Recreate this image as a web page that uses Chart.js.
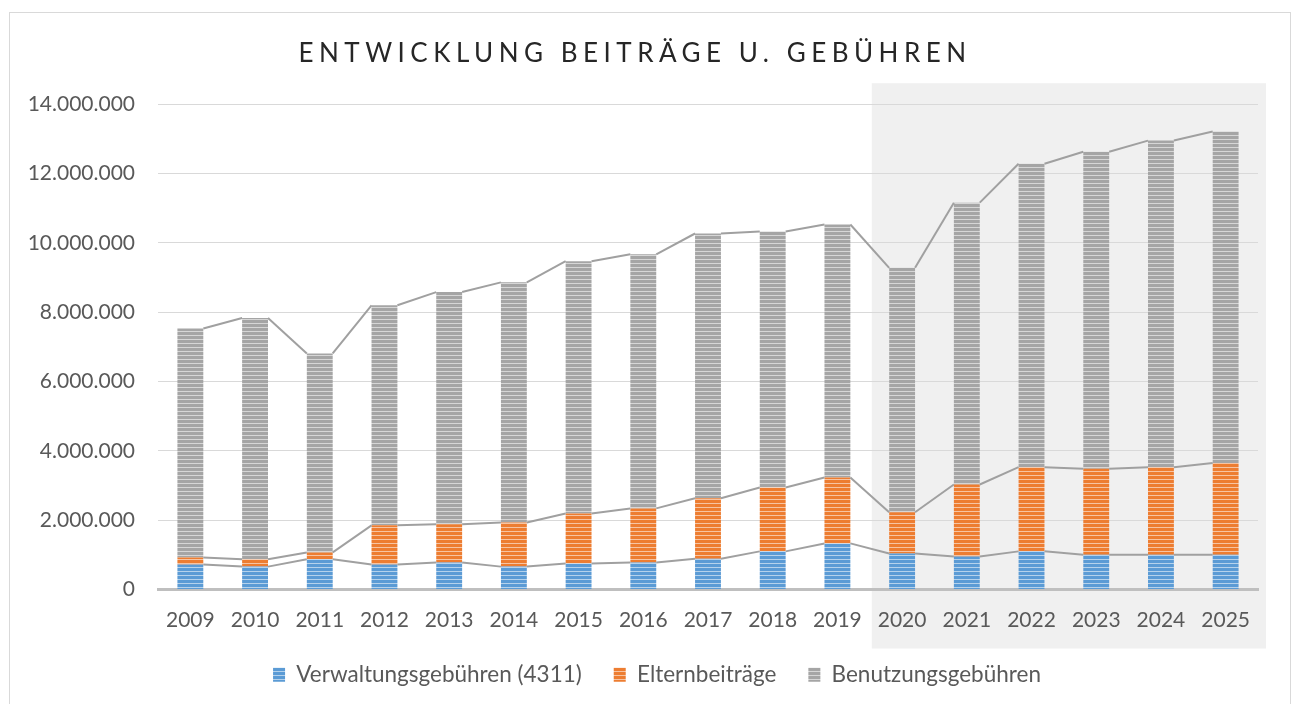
<!DOCTYPE html>
<html>
<head>
<meta charset="utf-8">
<script src="https://cdn.jsdelivr.net/npm/chart.js@4.4.1/dist/chart.umd.min.js"></script>
<style>
  html, body { margin: 0; padding: 0; background: #fff; }
  #wrap { width: 1295px; height: 704px; }
</style>
</head>
<body>
<div id="wrap"><canvas id="grafico" width="1295" height="704"></canvas></div>
<script>
const jahre = ['2009','2010','2011','2012','2013','2014','2015','2016','2017','2018','2019','2020','2021','2022','2023','2024','2025'];
const verwaltung = [720000, 660000, 870000, 720000, 780000, 660000, 750000, 780000, 890000, 1100000, 1330000, 1040000, 950000, 1100000, 1000000, 1000000, 1000000];
const eltern = [200000, 210000, 200000, 1130000, 1100000, 1270000, 1440000, 1560000, 1740000, 1840000, 1900000, 1190000, 2080000, 2430000, 2480000, 2530000, 2650000];
const benutzung = [6610000, 6960000, 5740000, 6350000, 6700000, 6930000, 7280000, 7330000, 7640000, 7390000, 7300000, 7050000, 8130000, 8750000, 9150000, 9420000, 9560000];
const yTicks = [0, 2000000, 4000000, 6000000, 8000000, 10000000, 12000000, 14000000];
const titel = 'ENTWICKLUNG BEITRÄGE U. GEBÜHREN';
const ersterPlanIndex = 11; // ab 2020 grau hinterlegt

function streifen(farbe) {
    const c = document.createElement('canvas');
    c.width = 4; c.height = 4;
    const g = c.getContext('2d');
    g.fillStyle = farbe;
    g.fillRect(0, 0, 4, 4);
    g.fillStyle = 'rgba(255,255,255,0.55)';
    g.fillRect(0, 3, 4, 1);
    return g.createPattern(c, 'repeat');
}

const schrift = 'Lato, "Open Sans", sans-serif';

const hintergrund = {
    id: 'hintergrund',
    beforeDraw(chart) {
        const { ctx, chartArea, scales } = chart;
        const x = scales.x;
        const links = (x.getPixelForValue(ersterPlanIndex - 1) + x.getPixelForValue(ersterPlanIndex)) / 2 + 2;
        const oben = chartArea.top - 21;
        ctx.save();
        ctx.fillStyle = '#f0f0f0';
        ctx.fillRect(links, oben, chartArea.right + 8 - links, chartArea.bottom + 59 - oben);
        ctx.strokeStyle = '#d9d9d9';
        ctx.lineWidth = 1;
        ctx.strokeRect(9.5, 12.5, 1281, 700);
        ctx.restore();
    }
};

const serienLinien = {
    id: 'serienLinien',
    afterDatasetsDraw(chart) {
        const ctx = chart.ctx;
        ctx.save();
        ctx.strokeStyle = '#a0a0a0';
        ctx.lineWidth = 2;
        chart.data.datasets.forEach((ds, i) => {
            const bars = chart.getDatasetMeta(i).data;
            for (let j = 0; j < bars.length - 1; j++) {
                const a = bars[j], b = bars[j + 1];
                ctx.beginPath();
                ctx.moveTo(a.x + a.width / 2, a.y);
                ctx.lineTo(b.x - b.width / 2, b.y);
                ctx.stroke();
            }
        });
        ctx.restore();
    }
};

const grafico = new Chart(document.getElementById('grafico'), {
    type: 'bar',
    data: {
        labels: jahre,
        datasets: [
            { label: 'Verwaltungsgebühren (4311)', data: verwaltung, backgroundColor: streifen('#5b9bd5') },
            { label: 'Elternbeiträge', data: eltern, backgroundColor: streifen('#ed7d31') },
            { label: 'Benutzungsgebühren', data: benutzung, backgroundColor: streifen('#a5a5a5') }
        ]
    },
    options: {
        responsive: false,
        animation: false,
        layout: { padding: { left: 0, right: 37, top: 0, bottom: 8 } },
        datasets: { bar: { categoryPercentage: 1, barPercentage: 0.4 } },
        scales: {
            x: {
                stacked: true,
                grid: { display: false, drawTicks: false },
                border: { display: true, color: '#bfbfbf', width: 3 },
                ticks: { color: '#595959', font: { family: schrift, size: 21 }, padding: 18, maxRotation: 0 },
                afterFit(s) { s.height = 42; }
            },
            y: {
                stacked: true,
                min: 0,
                max: 14000000,
                afterBuildTicks(s) { s.ticks = yTicks.map(v => ({ value: v })); },
                grid: { color: '#d9d9d9', lineWidth: 1, drawTicks: false },
                border: { display: false },
                ticks: {
                    color: '#595959',
                    font: { family: schrift, size: 21 },
                    padding: 23,
                    callback: v => v.toLocaleString('de-DE')
                },
                afterFit(s) { s.width = 158; }
            }
        },
        plugins: {
            title: {
                display: true,
                text: titel,
                color: '#262626',
                font: { family: schrift, size: 26, weight: 'normal' },
                padding: { top: 38, bottom: 35 }
            },
            legend: {
                position: 'bottom',
                labels: {
                    color: '#595959',
                    font: { family: schrift, size: 22.5 },
                    boxWidth: 12,
                    boxHeight: 14,
                    padding: 32
                }
            },
            tooltip: { enabled: false }
        }
    },
    plugins: [hintergrund, serienLinien]
});

// Titel mit Buchstabenabstand wie im Original
const titelBlock = grafico.titleBlock;
const titelZeichnen = titelBlock.draw.bind(titelBlock);
titelBlock.draw = function () {
    grafico.ctx.save();
    grafico.ctx.translate(6, 0);
    grafico.ctx.letterSpacing = '5.5px';
    titelZeichnen();
    grafico.ctx.restore();
};

// Legende etwas nach rechts, wie im Original
const legende = grafico.legend;
const legendeZeichnen = legende.draw.bind(legende);
legende.draw = function () {
    grafico.ctx.save();
    grafico.ctx.translate(28, 0);
    legendeZeichnen();
    grafico.ctx.restore();
};
grafico.draw();
</script>
</body>
</html>
